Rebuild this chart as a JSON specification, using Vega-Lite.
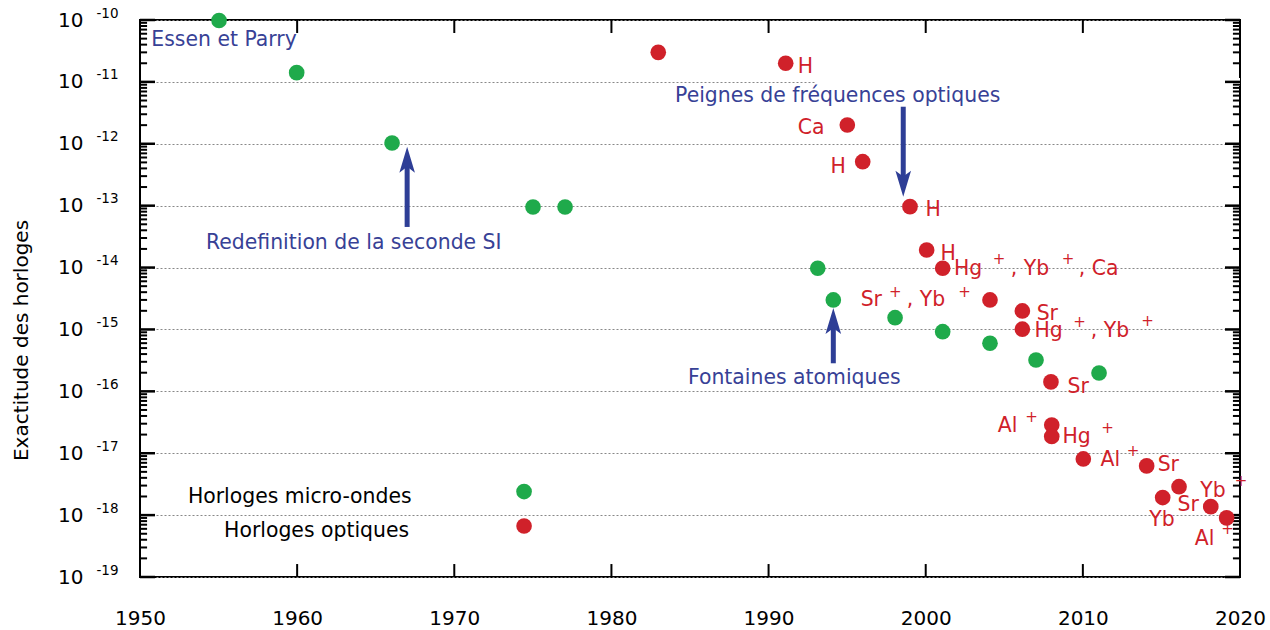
{
 "$schema": "https://vega.github.io/schema/vega-lite/v6.json",
 "width": 1100,
 "height": 557,
 "autosize": {"type": "none"},
 "padding": {"left": 140, "top": 20, "right": 30, "bottom": 53},
 "background": "white",
 "config": {"font": "DejaVu Sans", "view": {"stroke": "#000", "strokeWidth": 2}, "axis": {"domain": false, "labelColor": "#000", "tickColor": "#000"}},
 "datasets": {
  "yticks": [
   {"val":1e-19,"year":1950,"year2":1950.955},{"val":1e-18,"year":1950,"year2":1950.955},{"val":1e-17,"year":1950,"year2":1950.955},{"val":1e-16,"year":1950,"year2":1950.955},{"val":1e-15,"year":1950,"year2":1950.955},{"val":1e-14,"year":1950,"year2":1950.955},{"val":1e-13,"year":1950,"year2":1950.955},{"val":1e-12,"year":1950,"year2":1950.955},{"val":1e-11,"year":1950,"year2":1950.955},{"val":1e-10,"year":1950,"year2":1950.955},
   {"val":1e-19,"year":2019.045,"year2":2020},{"val":1e-18,"year":2019.045,"year2":2020},{"val":1e-17,"year":2019.045,"year2":2020},{"val":1e-16,"year":2019.045,"year2":2020},{"val":1e-15,"year":2019.045,"year2":2020},{"val":1e-14,"year":2019.045,"year2":2020},{"val":1e-13,"year":2019.045,"year2":2020},{"val":1e-12,"year":2019.045,"year2":2020},{"val":1e-11,"year":2019.045,"year2":2020},{"val":1e-10,"year":2019.045,"year2":2020}
  ],
  "yminor": [
   {"val":2e-19,"year":1950,"year2":1950.45},{"val":3e-19,"year":1950,"year2":1950.45},{"val":4e-19,"year":1950,"year2":1950.45},{"val":5e-19,"year":1950,"year2":1950.45},{"val":6e-19,"year":1950,"year2":1950.45},{"val":7e-19,"year":1950,"year2":1950.45},{"val":8e-19,"year":1950,"year2":1950.45},{"val":9e-19,"year":1950,"year2":1950.45},
   {"val":2e-18,"year":1950,"year2":1950.45},{"val":3e-18,"year":1950,"year2":1950.45},{"val":4e-18,"year":1950,"year2":1950.45},{"val":5e-18,"year":1950,"year2":1950.45},{"val":6e-18,"year":1950,"year2":1950.45},{"val":7e-18,"year":1950,"year2":1950.45},{"val":8e-18,"year":1950,"year2":1950.45},{"val":9e-18,"year":1950,"year2":1950.45},
   {"val":2e-17,"year":1950,"year2":1950.45},{"val":3e-17,"year":1950,"year2":1950.45},{"val":4e-17,"year":1950,"year2":1950.45},{"val":5e-17,"year":1950,"year2":1950.45},{"val":6e-17,"year":1950,"year2":1950.45},{"val":7e-17,"year":1950,"year2":1950.45},{"val":8e-17,"year":1950,"year2":1950.45},{"val":9e-17,"year":1950,"year2":1950.45},
   {"val":2e-16,"year":1950,"year2":1950.45},{"val":3e-16,"year":1950,"year2":1950.45},{"val":4e-16,"year":1950,"year2":1950.45},{"val":5e-16,"year":1950,"year2":1950.45},{"val":6e-16,"year":1950,"year2":1950.45},{"val":7e-16,"year":1950,"year2":1950.45},{"val":8e-16,"year":1950,"year2":1950.45},{"val":9e-16,"year":1950,"year2":1950.45},
   {"val":2e-15,"year":1950,"year2":1950.45},{"val":3e-15,"year":1950,"year2":1950.45},{"val":4e-15,"year":1950,"year2":1950.45},{"val":5e-15,"year":1950,"year2":1950.45},{"val":6e-15,"year":1950,"year2":1950.45},{"val":7e-15,"year":1950,"year2":1950.45},{"val":8e-15,"year":1950,"year2":1950.45},{"val":9e-15,"year":1950,"year2":1950.45},
   {"val":2e-14,"year":1950,"year2":1950.45},{"val":3e-14,"year":1950,"year2":1950.45},{"val":4e-14,"year":1950,"year2":1950.45},{"val":5e-14,"year":1950,"year2":1950.45},{"val":6e-14,"year":1950,"year2":1950.45},{"val":7e-14,"year":1950,"year2":1950.45},{"val":8e-14,"year":1950,"year2":1950.45},{"val":9e-14,"year":1950,"year2":1950.45},
   {"val":2e-13,"year":1950,"year2":1950.45},{"val":3e-13,"year":1950,"year2":1950.45},{"val":4e-13,"year":1950,"year2":1950.45},{"val":5e-13,"year":1950,"year2":1950.45},{"val":6e-13,"year":1950,"year2":1950.45},{"val":7e-13,"year":1950,"year2":1950.45},{"val":8e-13,"year":1950,"year2":1950.45},{"val":9e-13,"year":1950,"year2":1950.45},
   {"val":2e-12,"year":1950,"year2":1950.45},{"val":3e-12,"year":1950,"year2":1950.45},{"val":4e-12,"year":1950,"year2":1950.45},{"val":5e-12,"year":1950,"year2":1950.45},{"val":6e-12,"year":1950,"year2":1950.45},{"val":7e-12,"year":1950,"year2":1950.45},{"val":8e-12,"year":1950,"year2":1950.45},{"val":9e-12,"year":1950,"year2":1950.45},
   {"val":2e-11,"year":1950,"year2":1950.45},{"val":3e-11,"year":1950,"year2":1950.45},{"val":4e-11,"year":1950,"year2":1950.45},{"val":5e-11,"year":1950,"year2":1950.45},{"val":6e-11,"year":1950,"year2":1950.45},{"val":7e-11,"year":1950,"year2":1950.45},{"val":8e-11,"year":1950,"year2":1950.45},{"val":9e-11,"year":1950,"year2":1950.45},
   {"val":2e-19,"year":2019.55,"year2":2020},{"val":3e-19,"year":2019.55,"year2":2020},{"val":4e-19,"year":2019.55,"year2":2020},{"val":5e-19,"year":2019.55,"year2":2020},{"val":6e-19,"year":2019.55,"year2":2020},{"val":7e-19,"year":2019.55,"year2":2020},{"val":8e-19,"year":2019.55,"year2":2020},{"val":9e-19,"year":2019.55,"year2":2020},
   {"val":2e-18,"year":2019.55,"year2":2020},{"val":3e-18,"year":2019.55,"year2":2020},{"val":4e-18,"year":2019.55,"year2":2020},{"val":5e-18,"year":2019.55,"year2":2020},{"val":6e-18,"year":2019.55,"year2":2020},{"val":7e-18,"year":2019.55,"year2":2020},{"val":8e-18,"year":2019.55,"year2":2020},{"val":9e-18,"year":2019.55,"year2":2020},
   {"val":2e-17,"year":2019.55,"year2":2020},{"val":3e-17,"year":2019.55,"year2":2020},{"val":4e-17,"year":2019.55,"year2":2020},{"val":5e-17,"year":2019.55,"year2":2020},{"val":6e-17,"year":2019.55,"year2":2020},{"val":7e-17,"year":2019.55,"year2":2020},{"val":8e-17,"year":2019.55,"year2":2020},{"val":9e-17,"year":2019.55,"year2":2020},
   {"val":2e-16,"year":2019.55,"year2":2020},{"val":3e-16,"year":2019.55,"year2":2020},{"val":4e-16,"year":2019.55,"year2":2020},{"val":5e-16,"year":2019.55,"year2":2020},{"val":6e-16,"year":2019.55,"year2":2020},{"val":7e-16,"year":2019.55,"year2":2020},{"val":8e-16,"year":2019.55,"year2":2020},{"val":9e-16,"year":2019.55,"year2":2020},
   {"val":2e-15,"year":2019.55,"year2":2020},{"val":3e-15,"year":2019.55,"year2":2020},{"val":4e-15,"year":2019.55,"year2":2020},{"val":5e-15,"year":2019.55,"year2":2020},{"val":6e-15,"year":2019.55,"year2":2020},{"val":7e-15,"year":2019.55,"year2":2020},{"val":8e-15,"year":2019.55,"year2":2020},{"val":9e-15,"year":2019.55,"year2":2020},
   {"val":2e-14,"year":2019.55,"year2":2020},{"val":3e-14,"year":2019.55,"year2":2020},{"val":4e-14,"year":2019.55,"year2":2020},{"val":5e-14,"year":2019.55,"year2":2020},{"val":6e-14,"year":2019.55,"year2":2020},{"val":7e-14,"year":2019.55,"year2":2020},{"val":8e-14,"year":2019.55,"year2":2020},{"val":9e-14,"year":2019.55,"year2":2020},
   {"val":2e-13,"year":2019.55,"year2":2020},{"val":3e-13,"year":2019.55,"year2":2020},{"val":4e-13,"year":2019.55,"year2":2020},{"val":5e-13,"year":2019.55,"year2":2020},{"val":6e-13,"year":2019.55,"year2":2020},{"val":7e-13,"year":2019.55,"year2":2020},{"val":8e-13,"year":2019.55,"year2":2020},{"val":9e-13,"year":2019.55,"year2":2020},
   {"val":2e-12,"year":2019.55,"year2":2020},{"val":3e-12,"year":2019.55,"year2":2020},{"val":4e-12,"year":2019.55,"year2":2020},{"val":5e-12,"year":2019.55,"year2":2020},{"val":6e-12,"year":2019.55,"year2":2020},{"val":7e-12,"year":2019.55,"year2":2020},{"val":8e-12,"year":2019.55,"year2":2020},{"val":9e-12,"year":2019.55,"year2":2020},
   {"val":2e-11,"year":2019.55,"year2":2020},{"val":3e-11,"year":2019.55,"year2":2020},{"val":4e-11,"year":2019.55,"year2":2020},{"val":5e-11,"year":2019.55,"year2":2020},{"val":6e-11,"year":2019.55,"year2":2020},{"val":7e-11,"year":2019.55,"year2":2020},{"val":8e-11,"year":2019.55,"year2":2020},{"val":9e-11,"year":2019.55,"year2":2020}
  ],
  "xticks": [
   {"year":1960,"val":1e-19,"val2":1.62e-19},{"year":1970,"val":1e-19,"val2":1.62e-19},{"year":1980,"val":1e-19,"val2":1.62e-19},{"year":1990,"val":1e-19,"val2":1.62e-19},{"year":2000,"val":1e-19,"val2":1.62e-19},{"year":2010,"val":1e-19,"val2":1.62e-19},
   {"year":1960,"val":6.17e-11,"val2":1e-10},{"year":1970,"val":6.17e-11,"val2":1e-10},{"year":1980,"val":6.17e-11,"val2":1e-10},{"year":1990,"val":6.17e-11,"val2":1e-10},{"year":2000,"val":6.17e-11,"val2":1e-10},{"year":2010,"val":6.17e-11,"val2":1e-10}
  ]
 },
 "layer": [
  {
   "encoding": {
    "x": {"field": "year", "type": "quantitative",
      "scale": {"domain": [1950, 2020], "nice": false, "zero": false},
      "axis": {"orient": "bottom", "values": [1950,1960,1970,1980,1990,2000,2010,2020], "format": "d",
        "ticks": false, "tickSize": 0, "labelFontSize": 20,
        "labelPadding": 31, "labelFlush": false, "labelOverlap": false, "grid": false, "title": null}},
    "y": {"field": "val", "type": "quantitative",
      "scale": {"type": "log", "domain": [1e-19, 1e-10], "nice": false},
      "axis": {"orient": "left",
        "values": [1e-19,1e-18,1e-17,1e-16,1e-15,1e-14,1e-13,1e-12,1e-11,1e-10],
        "ticks": false, "tickSize": 0,
        "labelExpr": "'10'",
        "labelFontSize": 20, "labelPadding": 57, "labelFlush": false, "labelOverlap": false,
        "grid": true, "gridColor": "#888", "gridDash": [2, 2], "gridWidth": 1,
        "title": "Exactitude des horloges", "titleFontSize": 20, "titleFontWeight": "normal", "titleColor": "#000",
        "titleX": -119, "titleY": 320, "titleAngle": -90, "titleBaseline": "middle", "titleAlign": "center"}}
   },
   "layer": [
    {
     "data": {"values": [{"year": 1992.95, "year2": 2020, "val": 1.16e-11, "val2": 8.6e-12}]},
     "mark": {"type": "rect", "color": "white"},
     "encoding": {"x2": {"field": "year2"}, "y2": {"field": "val2"}}
    },
    {
     "data": {"name": "yticks"},
     "mark": {"type": "rule", "color": "#000", "strokeWidth": 2.5},
     "encoding": {"x2": {"field": "year2"}}
    },
    {
     "data": {"name": "yminor"},
     "mark": {"type": "rule", "color": "#000", "strokeWidth": 2},
     "encoding": {"x2": {"field": "year2"}}
    },
    {
     "data": {"name": "xticks"},
     "mark": {"type": "rule", "color": "#000", "strokeWidth": 2},
     "encoding": {"y2": {"field": "val2"}}
    },
    {
     "data": {"values": [
      {"year": 1967.0, "val": 4.53e-14, "val2": 5.54e-13, "dir": "up"},
      {"year": 1998.57, "val": 3.97e-12, "val2": 2.26e-13, "dir": "down"},
      {"year": 1994.12, "val": 2.84e-16, "val2": 1.37e-15, "dir": "up"}
     ]},
     "mark": {"type": "rule", "color": "#2e3e96", "strokeWidth": 5},
     "encoding": {"y2": {"field": "val2"}}
    },
    {
     "data": {"values": [
      {"year": 1967.0, "val": 5.54e-13, "dir": "up"},
      {"year": 1998.57, "val": 2.26e-13, "dir": "down"},
      {"year": 1994.12, "val": 1.37e-15, "dir": "up"}
     ]},
     "mark": {"type": "point", "filled": true, "opacity": 1, "color": "#2e3e96", "size": 676},
     "encoding": {"shape": {"field": "dir", "type": "nominal", "legend": null,
       "scale": {"domain": ["up", "down"], "range": ["M0,-1 L0.6,1 L0,0.55 L-0.6,1 Z", "M0,1 L0.6,-1 L0,-0.55 L-0.6,-1 Z"]}}}
    },
    {
     "data": {"values": [
      {"year": 1955.03, "val": 9.8e-11, "type": "micro"},
      {"year": 1959.97, "val": 1.41e-11, "type": "micro"},
      {"year": 1966.04, "val": 1.03e-12, "type": "micro"},
      {"year": 1975.01, "val": 9.5e-14, "type": "micro"},
      {"year": 1977.05, "val": 9.5e-14, "type": "micro"},
      {"year": 1993.13, "val": 9.75e-15, "type": "micro"},
      {"year": 1994.12, "val": 3.0e-15, "type": "micro"},
      {"year": 1998.05, "val": 1.55e-15, "type": "micro"},
      {"year": 2001.08, "val": 9.2e-16, "type": "micro"},
      {"year": 2004.09, "val": 5.98e-16, "type": "micro"},
      {"year": 2007.02, "val": 3.21e-16, "type": "micro"},
      {"year": 2011.03, "val": 1.98e-16, "type": "micro"},
      {"year": 1974.44, "val": 2.40e-18, "type": "micro"},
      {"year": 1982.98, "val": 3.0e-11, "type": "optique"},
      {"year": 1991.09, "val": 2.0e-11, "type": "optique"},
      {"year": 1995.01, "val": 2.01e-12, "type": "optique"},
      {"year": 1995.99, "val": 5.14e-13, "type": "optique"},
      {"year": 1999.0, "val": 9.64e-14, "type": "optique"},
      {"year": 2000.06, "val": 1.92e-14, "type": "optique"},
      {"year": 2001.08, "val": 9.75e-15, "type": "optique"},
      {"year": 2004.09, "val": 3.0e-15, "type": "optique"},
      {"year": 2006.15, "val": 1.99e-15, "type": "optique"},
      {"year": 2006.15, "val": 1.01e-15, "type": "optique"},
      {"year": 2007.97, "val": 1.42e-16, "type": "optique"},
      {"year": 2008.02, "val": 2.86e-17, "type": "optique"},
      {"year": 2008.02, "val": 1.86e-17, "type": "optique"},
      {"year": 2010.03, "val": 8.09e-18, "type": "optique"},
      {"year": 2014.06, "val": 6.24e-18, "type": "optique"},
      {"year": 2016.12, "val": 2.88e-18, "type": "optique"},
      {"year": 2015.08, "val": 1.92e-18, "type": "optique"},
      {"year": 2018.14, "val": 1.37e-18, "type": "optique"},
      {"year": 2019.15, "val": 9.02e-19, "type": "optique"},
      {"year": 1974.44, "val": 6.68e-19, "type": "optique"}
     ]},
     "mark": {"type": "circle", "size": 245, "opacity": 1},
     "encoding": {"color": {"field": "type", "type": "nominal", "legend": null,
       "scale": {"domain": ["micro", "optique"], "range": ["#1faa4b", "#d0212a"]}}}
    },
    {
     "data": {"values": [
      {"year": 1991.85, "val": 1.393e-11, "label": "H"},
      {"year": 1991.85, "val": 1.42e-12, "label": "Ca"},
      {"year": 1993.94, "val": 3.41e-13, "label": "H"},
      {"year": 1999.99, "val": 6.83e-14, "label": "H"},
      {"year": 2000.94, "val": 1.33e-14, "label": "H"},
      {"year": 2001.80, "val": 7.59e-15, "label": "Hg"},
      {"year": 2005.41, "val": 7.59e-15, "label": ", Yb"},
      {"year": 2009.74, "val": 7.59e-15, "label": ", Ca"},
      {"year": 1995.86, "val": 2.40e-15, "label": "Sr"},
      {"year": 1998.80, "val": 2.40e-15, "label": ", Yb"},
      {"year": 2007.06, "val": 1.42e-15, "label": "Sr"},
      {"year": 2006.92, "val": 7.65e-16, "label": "Hg"},
      {"year": 2010.50, "val": 7.65e-16, "label": ", Yb"},
      {"year": 2009.03, "val": 9.42e-17, "label": "Sr"},
      {"year": 2004.58, "val": 2.18e-17, "label": "Al"},
      {"year": 2008.70, "val": 1.45e-17, "label": "Hg"},
      {"year": 2011.12, "val": 6.24e-18, "label": "Al"},
      {"year": 2014.76, "val": 5.18e-18, "label": "Sr"},
      {"year": 2017.47, "val": 1.99e-18, "label": "Yb"},
      {"year": 2016.03, "val": 1.17e-18, "label": "Sr"},
      {"year": 2014.22, "val": 6.69e-19, "label": "Yb"},
      {"year": 2017.12, "val": 3.30e-19, "label": "Al"}
     ]},
     "mark": {"type": "text", "color": "#d0212a", "fontSize": 20.4, "align": "left", "baseline": "alphabetic"},
     "encoding": {"text": {"field": "label"}}
    },
    {
     "data": {"values": [
      {"year": 2004.66, "val": 1.377e-14, "label": "+"},
      {"year": 2009.05, "val": 1.377e-14, "label": "+"},
      {"year": 1998.07, "val": 4.04e-15, "label": "+"},
      {"year": 2002.47, "val": 4.04e-15, "label": "+"},
      {"year": 2009.79, "val": 1.34e-15, "label": "+"},
      {"year": 2014.11, "val": 1.37e-15, "label": "+"},
      {"year": 2006.73, "val": 3.86e-17, "label": "+"},
      {"year": 2011.57, "val": 2.58e-17, "label": "+"},
      {"year": 2013.19, "val": 1.09e-17, "label": "+"},
      {"year": 2020.06, "val": 3.57e-18, "label": "+"},
      {"year": 2019.20, "val": 5.98e-19, "label": "+"}
     ]},
     "mark": {"type": "text", "color": "#d0212a", "fontSize": 15, "align": "center", "baseline": "middle"},
     "encoding": {"text": {"field": "label"}}
    },
    {
     "data": {"values": [
      {"year": 1950.72, "val": 3.85e-11, "label": "Essen et Parry"},
      {"year": 1984.05, "val": 4.65e-12, "label": "Peignes de fréquences optiques"},
      {"year": 1954.2, "val": 1.98e-14, "label": "Redefinition de la seconde SI"},
      {"year": 1984.87, "val": 1.32e-16, "label": "Fontaines atomiques"}
     ]},
     "mark": {"type": "text", "color": "#374196", "fontSize": 20.4, "align": "left", "baseline": "alphabetic"},
     "encoding": {"text": {"field": "label"}}
    },
    {
     "data": {"values": [
      {"year": 1953.05, "val": 1.56e-18, "label": "Horloges micro-ondes"},
      {"year": 1955.35, "val": 4.40e-19, "label": "Horloges optiques"}
     ]},
     "mark": {"type": "text", "color": "#000", "fontSize": 20.4, "align": "left", "baseline": "alphabetic"},
     "encoding": {"text": {"field": "label"}}
    }
   ]
  },
  {
   "data": {"values": [{"year": 1950, "val": 1e-10}]},
   "mark": {"type": "point", "opacity": 0},
   "encoding": {
    "x": {"field": "year", "type": "quantitative", "scale": {"domain": [1950, 2020], "nice": false, "zero": false}, "axis": null},
    "y": {"field": "val", "type": "quantitative",
      "scale": {"type": "log", "domain": [1e-19, 1e-10], "nice": false},
      "axis": {"orient": "left", "values": [1e-19,1e-18,1e-17,1e-16,1e-15,1e-14,1e-13,1e-12,1e-11,1e-10],
        "ticks": false, "tickSize": 0, "labelExpr": "'-' + abs(round(log(datum.value)/LN10))",
        "labelFontSize": 13.5, "labelPadding": 22, "labelOffset": -7, "labelFlush": false, "labelOverlap": false,
        "grid": false, "title": null}}
   }
  }
 ],
 "resolve": {"axis": {"x": "independent", "y": "independent"}}
}
